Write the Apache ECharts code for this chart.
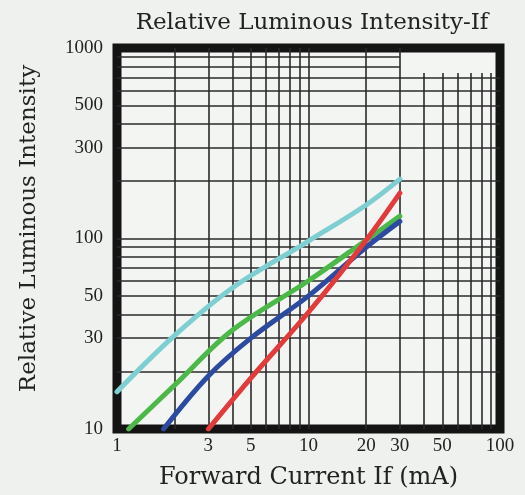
<!DOCTYPE html>
<html>
<head>
<meta charset="utf-8">
<script src="https://cdn.jsdelivr.net/npm/echarts@6/dist/echarts.min.js"></script>
<style>
html,body{margin:0;padding:0;background:#eef1ed;}
#c{width:525px;height:495px;}
</style>
</head>
<body>
<div id="c"></div>
<script>
// Data (If in mA, relative luminous intensity)
const cyanX  = [1, 2, 4, 10, 20, 30];
const cyanY  = [15.7, 31, 55, 97, 150, 205];
const greenX = [1.15, 2, 4, 10, 20, 30];
const greenY = [10, 17, 33, 60, 98, 131];
const blueX  = [1.75, 3, 5, 10, 20, 30];
const blueY  = [10, 19, 30, 50, 90, 123];
const redX   = [3, 5, 10, 20, 30];
const redY   = [10, 18.5, 41, 98, 173];

const xTickLabels = [1, 3, 5, 10, 20, 30, 50, 100];
const yTickLabels = [10, 30, 50, 100, 300, 500, 1000];
const xGridFull = [2, 3, 4, 5, 6, 7, 8, 9, 10, 20, 30];
const xGridPart = [40, 50, 60, 70, 80, 90];
const yGridFull = [20, 30, 40, 50, 60, 70, 80, 90, 100, 200, 300, 400, 500, 600, 700];
const yGridPart = [800, 900];
const xGridPartTop = 740;
const yGridPartEnd = 30;

function pairs(xs, ys){ return xs.map((x,i)=>[x, ys[i]]); }

const gridLines = [];
xGridFull.forEach(v => gridLines.push({xAxis: v}));
yGridFull.forEach(v => gridLines.push({yAxis: v}));
xGridPart.forEach(v => gridLines.push([{coord:[v, 10]}, {coord:[v, xGridPartTop]}]));
yGridPart.forEach(v => gridLines.push([{coord:[1, v]}, {coord:[yGridPartEnd, v]}]));

const serif = '"Liberation Serif", "DejaVu Serif", serif';
const wideSerif = '"DejaVu Serif", "Liberation Serif", serif';

function curve(name, xs, ys, color){
  return {
    name, type:'line', data: pairs(xs, ys), smooth: 0.35, showSymbol:false, symbol:'none',
    z: 5, silent: true,
    lineStyle:{color, width:5, cap:'round'}
  };
}

const chart = echarts.init(document.getElementById('c'), null, {renderer:'canvas'});
chart.setOption({
  animation:false,
  backgroundColor:'#eef1ed',
  title:{
    text:'Relative Luminous Intensity-If', left:307, textAlign:'center', top:7,
    textStyle:{fontFamily:wideSerif, fontSize:23, fontWeight:'normal', color:'#222'}
  },
  grid:{
    left:117, right:25, top:48, bottom:64, show:true,
    borderWidth:9, borderColor:'#141414', backgroundColor:'#f3f5f3'
  },
  xAxis:{
    type:'log', logBase:10, min:1, max:100,
    name:'Forward Current If (mA)', nameLocation:'middle', nameGap:37,
    nameTextStyle:{fontFamily:wideSerif, fontSize:24, color:'#222'},
    axisLine:{show:false}, axisTick:{show:false}, splitLine:{show:false}, minorSplitLine:{show:false},
    axisLabel:{customValues:xTickLabels, margin:8, fontFamily:serif, fontSize:19, color:'#222',
      formatter: v => String(v)}
  },
  yAxis:{
    type:'log', logBase:10, min:10, max:1000,
    name:'Relative Luminous Intensity', nameLocation:'middle', nameGap:76, nameRotate:90,
    nameTextStyle:{fontFamily:wideSerif, fontSize:23, color:'#222', padding:[0,0,0,20]},
    axisLine:{show:false}, axisTick:{show:false}, splitLine:{show:false}, minorSplitLine:{show:false},
    axisLabel:{customValues:yTickLabels, margin:14, fontFamily:serif, fontSize:19, color:'#222',
      formatter: v => String(v)}
  },
  series:[
    {
      name:'grid', type:'line', data:[], z:1, silent:true,
      markLine:{
        silent:true, symbol:['none','none'], animation:false,
        label:{show:false}, emphasis:{disabled:true},
        lineStyle:{type:'solid', color:'#2a2a2a', width:1.6},
        data: gridLines
      }
    },
    curve('cyan', cyanX, cyanY, '#7fcfd2'),
    curve('green', greenX, greenY, '#4db84a'),
    curve('blue', blueX, blueY, '#2c4aa0'),
    curve('red', redX, redY, '#e23b3b')
  ]
});
</script>
</body>
</html>
